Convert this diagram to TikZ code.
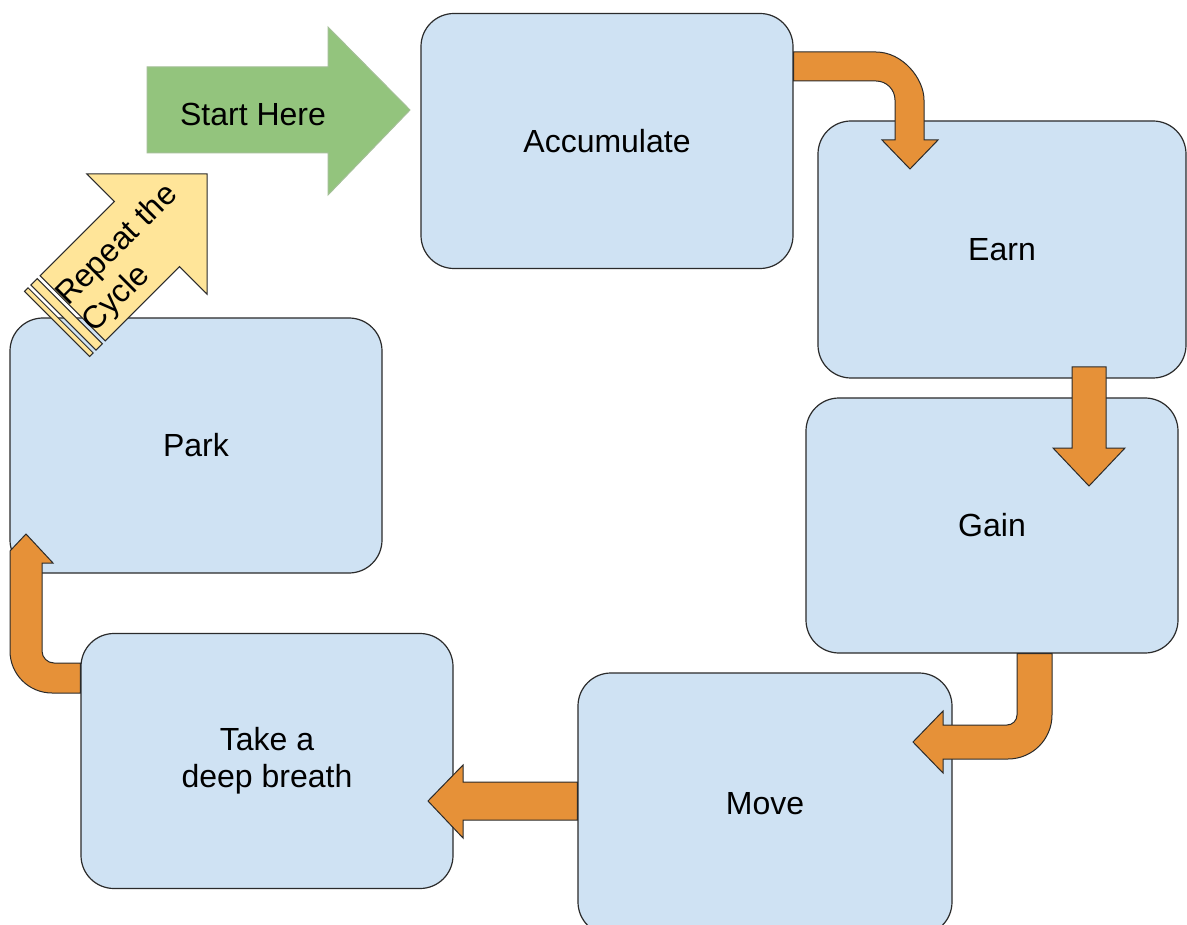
\documentclass[tikz,border=0pt]{standalone}
\usepackage{fontspec}
\setmainfont{Liberation Sans}
\usetikzlibrary{calc}
\definecolor{boxfill}{HTML}{CFE2F3}
\definecolor{boxline}{HTML}{2B2B2B}
\definecolor{orangefill}{HTML}{E69138}
\definecolor{greenfill}{HTML}{93C47D}
\definecolor{greenline}{HTML}{A3BF96}
\definecolor{yellowfill}{HTML}{FFE599}
\tikzset{
  box/.style={draw=boxline, line width=1.2pt, fill=boxfill, rounded corners=33pt,
    minimum width=372pt, minimum height=255pt, align=center},
  oarrow/.style={draw=boxline, line width=1pt, fill=orangefill, line join=miter},
  garrow/.style={draw=greenline, line width=1pt, fill=greenfill, line join=miter},
  yarrow/.style={draw=boxline, line width=1pt, fill=yellowfill, line join=miter},
}
\begin{document}
\begin{tikzpicture}[x=1pt, y=-1pt, font=\fontsize{32}{37}\selectfont]
\useasboundingbox (0,0) rectangle (1187,925);
\fill[white] (0,0) rectangle (1187,925);

% boxes
\node[box] (acc) at (607,141) {Accumulate};
\node[box, minimum width=368pt, minimum height=257pt] (earn) at (1002,249.5) {Earn};
\node[box] (gain) at (992,525.5) {Gain};
\node[box, minimum width=374pt, minimum height=262pt] (move) at (765,804) {Move};
\node[box] (take) at (267,761) {Take a\\deep breath};
\node[box] (park) at (196,445.5) {Park};

% Accumulate -> Earn
\draw[oarrow] (acc.east |- 0,52) -- (876,52) .. controls (902.5,52) and (924,78.5) .. (924,100)
  -- (924,140) -- (938,140) -- (910,169) -- (882,140) -- (895,140) -- (895,100)
  .. controls (895,89.5) and (886.5,81) .. (876,81) -- (acc.east |- 0,81) -- cycle;

% Earn -> Gain
\draw[oarrow] (1072,367) -- (1106,367) -- (1106,448) -- (1125,448) -- (1089,486)
  -- (1053,448) -- (1072,448) -- cycle;

% Gain -> Move
\draw[oarrow] (1017,0 |- gain.south) -- (1052,0 |- gain.south) -- (1052,715)
  .. controls (1052,739.3) and (1032.3,759) .. (1008,759) -- (943,759) -- (943,773)
  -- (913,742) -- (943,711) -- (943,725) -- (1007,725)
  .. controls (1012.5,725) and (1017,720.5) .. (1017,715) -- cycle;

% Move -> Take a deep breath
\draw[oarrow] (move.west |- 0,782) -- (463,782) -- (463,765) -- (428,801) -- (463,838)
  -- (463,820) -- (move.west |- 0,820) -- cycle;

% Take a deep breath -> Park
\draw[oarrow] (take.west |- 0,663) -- (54,663) .. controls (47.4,663) and (42,657.6) .. (42,651)
  -- (42,563) -- (53,563) -- (26,534) -- (10,551) -- (10,651)
  .. controls (10,674.2) and (28.8,693) .. (52,693) -- (take.west |- 0,693) -- cycle;

% Start Here
\draw[garrow] (147,67) -- (328,67) -- (328,27) -- (410,110) -- (328,195) -- (328,153)
  -- (147,153) -- cycle;
\node (start) at (253,114) {Start Here};

% Repeat the Cycle
\begin{scope}[shift={(207,174)}, rotate=45]
\draw[yarrow] (0,0) -- (-85,85) -- (-85,46) -- (-190,46) -- (-190,-46) -- (-85,-46)
  -- (-85,-85) -- cycle;
\draw[yarrow] (-194,-46) rectangle (-203,46);
\draw[yarrow] (-207,-46) rectangle (-212,46);
\node[rotate=45, align=left, inner sep=0pt] (repeat) at (-114,6) {Repeat the\\Cycle};
\end{scope}
\end{tikzpicture}
\end{document}
